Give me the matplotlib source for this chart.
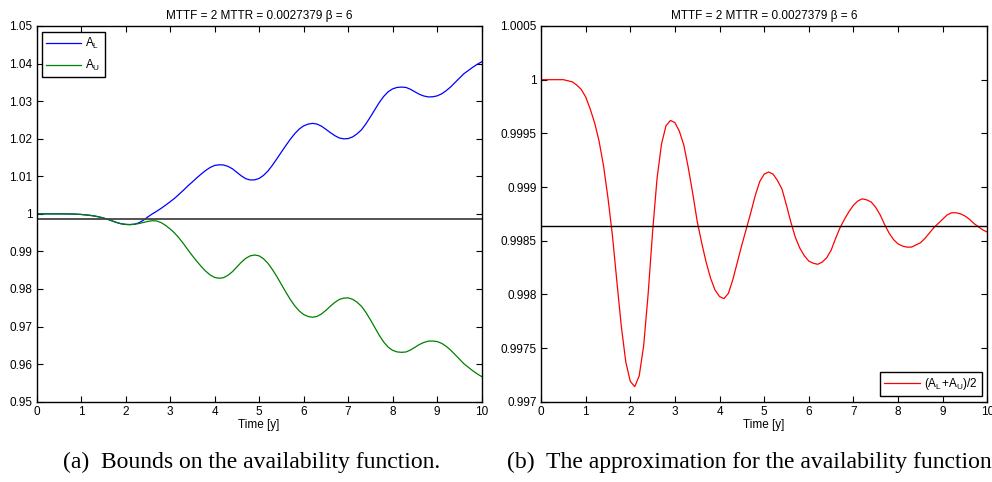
import matplotlib
matplotlib.use("Agg")
import matplotlib.pyplot as plt
from matplotlib.ticker import FixedLocator, FixedFormatter

plt.rcParams['font.family'] = ['Liberation Sans', 'DejaVu Sans']
plt.rcParams['mathtext.fontset'] = 'custom'
plt.rcParams['mathtext.rm'] = 'Liberation Sans'
plt.rcParams['mathtext.it'] = 'Liberation Sans:italic'

# ---------------- data ----------------
time_y = [round(i * 0.1, 1) for i in range(101)]

A_mid = [1.00000, 1.00000, 1.00000, 1.00000, 1.00000, 1.00000, 0.99999, 0.99998, 0.99995, 0.99991,
         0.99984, 0.99973, 0.99960, 0.99943, 0.99920, 0.99890, 0.99855, 0.99812, 0.99770, 0.99737,
         0.99719, 0.99714, 0.99724, 0.99752, 0.99800, 0.99858, 0.99908, 0.99940, 0.99957, 0.99962,
         0.99960, 0.99952, 0.99939, 0.99918, 0.99894, 0.99868, 0.99848, 0.99830, 0.99815, 0.99804,
         0.99798, 0.99796, 0.99801, 0.99814, 0.99830, 0.99846, 0.99861, 0.99876, 0.99892, 0.99905,
         0.99912, 0.99914, 0.99912, 0.99906, 0.99898, 0.99883, 0.99867, 0.99853, 0.99843, 0.99836,
         0.99831, 0.99829, 0.99828, 0.99830, 0.99834, 0.99841, 0.99852, 0.99862, 0.99870, 0.99877,
         0.99883, 0.99887, 0.99889, 0.99888, 0.99886, 0.99881, 0.99874, 0.99865, 0.99857, 0.99851,
         0.99847, 0.99845, 0.99844, 0.99844, 0.99846, 0.99848, 0.99852, 0.99857, 0.99862, 0.99866,
         0.99870, 0.99874, 0.99876, 0.99876, 0.99875, 0.99873, 0.99870, 0.99866, 0.99863, 0.99860,
         0.99858]

A_L = [1.00000, 1.00000, 1.00000, 1.00000, 1.00000, 1.00000, 0.99999, 0.99998, 0.99995, 0.99991,
       0.99984, 0.99973, 0.99960, 0.99943, 0.99920, 0.99890, 0.99855, 0.99812, 0.99770, 0.99737,
       0.99719, 0.99714, 0.99724, 0.99762, 0.99830, 0.99918, 0.99998, 1.00070, 1.00147, 1.00232,
       1.00320, 1.00412, 1.00519, 1.00628, 1.00744, 1.00848, 1.00958, 1.01060, 1.01155, 1.01234,
       1.01288, 1.01306, 1.01301, 1.01264, 1.01200, 1.01106, 1.01011, 1.00936, 1.00902, 1.00905,
       1.00942, 1.01024, 1.01142, 1.01296, 1.01468, 1.01643, 1.01817, 1.01983, 1.02133, 1.02256,
       1.02341, 1.02389, 1.02408, 1.02390, 1.02334, 1.02251, 1.02162, 1.02082, 1.02020, 1.01997,
       1.02003, 1.02047, 1.02129, 1.02238, 1.02396, 1.02581, 1.02774, 1.02965, 1.03127, 1.03251,
       1.03327, 1.03365, 1.03374, 1.03364, 1.03316, 1.03248, 1.03182, 1.03137, 1.03112, 1.03116,
       1.03140, 1.03194, 1.03276, 1.03376, 1.03495, 1.03613, 1.03730, 1.03816, 1.03903, 1.03980,
       1.04048]

A_U = [1.00000, 1.00000, 1.00000, 1.00000, 1.00000, 1.00000, 0.99999, 0.99998, 0.99995, 0.99991,
       0.99984, 0.99973, 0.99960, 0.99943, 0.99920, 0.99890, 0.99855, 0.99812, 0.99770, 0.99737,
       0.99719, 0.99714, 0.99724, 0.99742, 0.99770, 0.99798, 0.99818, 0.99810, 0.99767, 0.99692,
       0.99600, 0.99492, 0.99359, 0.99208, 0.99044, 0.98888, 0.98738, 0.98600, 0.98475, 0.98374,
       0.98308, 0.98286, 0.98301, 0.98364, 0.98460, 0.98586, 0.98711, 0.98816, 0.98882, 0.98905,
       0.98882, 0.98804, 0.98682, 0.98516, 0.98328, 0.98123, 0.97917, 0.97723, 0.97553, 0.97416,
       0.97321, 0.97269, 0.97248, 0.97270, 0.97334, 0.97431, 0.97542, 0.97642, 0.97720, 0.97757,
       0.97763, 0.97727, 0.97649, 0.97538, 0.97376, 0.97181, 0.96974, 0.96765, 0.96587, 0.96451,
       0.96367, 0.96325, 0.96314, 0.96324, 0.96376, 0.96448, 0.96522, 0.96577, 0.96612, 0.96616,
       0.96600, 0.96554, 0.96476, 0.96376, 0.96255, 0.96133, 0.96010, 0.95916, 0.95823, 0.95740,
       0.95668]

A_steady = 0.998633

x_ticks = [0, 1, 2, 3, 4, 5, 6, 7, 8, 9, 10]
left_yticks = [0.95, 0.96, 0.97, 0.98, 0.99, 1.0, 1.01, 1.02, 1.03, 1.04, 1.05]
left_ylabels = ["0.95", "0.96", "0.97", "0.98", "0.99", "1", "1.01", "1.02", "1.03", "1.04", "1.05"]
right_yticks = [0.997, 0.9975, 0.998, 0.9985, 0.999, 0.9995, 1.0, 1.0005]
right_ylabels = ["0.997", "0.9975", "0.998", "0.9985", "0.999", "0.9995", "1", "1.0005"]

title_txt = "MTTF = 2 MTTR = 0.0027379 \u03b2 = 6"
xlabel_txt = "Time [y]"
cap_a = "(a)  Bounds on the availability function."
cap_b = "(b)  The approximation for the availability function."

# ---------------- figure ----------------
W, H = 992, 482
fig = plt.figure(figsize=(W / 100, H / 100), dpi=100)
ax_bottom = (H - 401.7) / H
ax_height = 375.7 / H
ax1 = fig.add_axes([36.5 / W, ax_bottom, 445.2 / W, ax_height])
ax2 = fig.add_axes([541.0 / W, ax_bottom, 446.3 / W, ax_height])

fs = 8.5


def style(ax, yt, yl, ylim):
    ax.set_xlim(0, 10)
    ax.set_ylim(*ylim)
    ax.xaxis.set_major_locator(FixedLocator(x_ticks))
    ax.set_xticklabels([str(v) for v in x_ticks])
    ax.yaxis.set_major_locator(FixedLocator(yt))
    ax.yaxis.set_major_formatter(FixedFormatter(yl))
    ax.tick_params(direction='in', length=4, width=0.8, top=True, right=True,
                   labelsize=fs, pad=3, colors='black')
    for s in ax.spines.values():
        s.set_linewidth(1.0)
        s.set_color('black')
    ax.set_title(title_txt, fontsize=fs, pad=5)
    ax.set_xlabel(xlabel_txt, fontsize=fs, labelpad=1)


# left panel
ax1.plot(time_y, A_L, color='#0000ff', lw=0.9, label=r'$\mathregular{A_L}$')
ax1.plot(time_y, A_U, color='#008000', lw=0.9, label=r'$\mathregular{A_U}$')
ax1.axhline(A_steady, color='#454545', lw=1.3)
style(ax1, left_yticks, left_ylabels, (0.95, 1.05))
leg1 = ax1.legend(loc='upper left', bbox_to_anchor=(0.0117, 0.984), borderaxespad=0,
                  fontsize=fs, frameon=True, fancybox=False, edgecolor='black',
                  framealpha=1, handlelength=3.0, handletextpad=0.35, labelspacing=0.55,
                  borderpad=0.35)
leg1.get_frame().set_linewidth(1.0)

# right panel
ax2.plot(time_y, A_mid, color='#ff0000', lw=0.9, label=r'$\mathregular{(A_L\!+\!A_U)/2}$')
ax2.axhline(A_steady, color='black', lw=1.0)
style(ax2, right_yticks, right_ylabels, (0.997, 1.0005))
leg2 = ax2.legend(loc='lower right', bbox_to_anchor=(0.9875, 0.0152), borderaxespad=0,
                  fontsize=fs, frameon=True, fancybox=False, edgecolor='black',
                  framealpha=1, handlelength=3.0, handletextpad=0.35, borderpad=0.35)
leg2.get_frame().set_linewidth(1.0)

# captions
fig.text(252 / W, 1 - 462 / H, cap_a, ha='center', va='center',
         fontsize=17, family=['Liberation Serif', 'DejaVu Serif'])
fig.text(507 / W, 1 - 462 / H, cap_b, ha='left', va='center',
         fontsize=17, family=['Liberation Serif', 'DejaVu Serif'])

fig.savefig('out.png', dpi=100)
